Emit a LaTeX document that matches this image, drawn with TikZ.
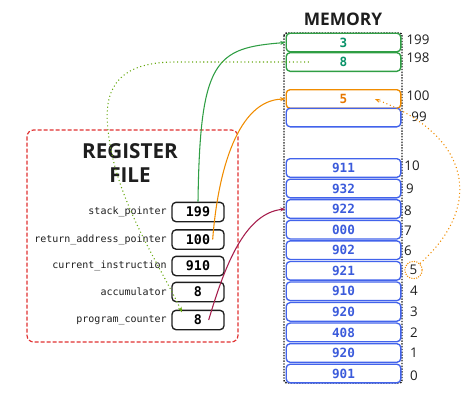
\documentclass[tikz,border=0pt]{standalone}
\usepackage{fontspec}
\newfontfamily\codefont{DejaVu Sans Mono}
\newfontfamily\handfont{Open Sans}
\usetikzlibrary{arrows.meta}
\definecolor{memgreen}{HTML}{2F9E44}
\definecolor{memgreentext}{HTML}{099268}
\definecolor{memorange}{HTML}{F08C00}
\definecolor{memorangetext}{HTML}{E67700}
\definecolor{memblue}{HTML}{4263EB}
\definecolor{membluetext}{HTML}{3B5BDB}
\definecolor{regred}{HTML}{E03131}
\definecolor{ptrred}{HTML}{A61E4D}
\definecolor{ptrolive}{HTML}{66A80F}
\definecolor{ink}{HTML}{1E1E1E}
\begin{document}
\begin{tikzpicture}[x=0.75pt,y=-0.75pt,
  cell/.style={draw,rounded corners=3pt,line width=1pt,minimum width=86pt,minimum height=14pt,inner sep=0pt,font=\codefont\bfseries\fontsize{9.5}{10}\selectfont},
  greencell/.style={cell,draw=memgreen,text=memgreentext},
  orangecell/.style={cell,draw=memorange,text=memorangetext},
  bluecell/.style={cell,draw=memblue,text=membluetext},
  regbox/.style={draw=ink,rounded corners=3pt,line width=1pt,minimum width=39pt,minimum height=14.5pt,inner sep=0pt,font=\codefont\bfseries\fontsize{10}{11}\selectfont},
  reglabel/.style={anchor=east,inner sep=0pt,text=ink,font=\codefont\fontsize{7.5}{8}\selectfont},
  addr/.style={inner sep=0pt,text=ink,font=\handfont\fontsize{10}{11}\selectfont},
  title/.style={text=ink,align=center,font=\handfont\bfseries\fontsize{15.5}{17.5}\selectfont},
  ptr/.style={line width=0.8pt,-{Stealth[length=4pt,width=3pt]}}]
\useasboundingbox (0,0) rectangle (474,415);

%REGISTER FILE
\draw[regred,line width=0.9pt,dash pattern=on 3pt off 1.5pt,rounded corners=5pt] (27,130) rectangle (238,342);
\node[title] (regtitle) at (130,163) {REGISTER\\FILE};
\node[regbox] (sp) at (198,212) {199};
\node[regbox] (rap) at (198,239.5) {100};
\node[regbox] (ci) at (198,266) {910};
\node[regbox] (acc) at (198,292) {8};
\node[regbox] (pc) at (198,320) {8};
\node[reglabel] (sp-l) at (167,212) {stack\_pointer};
\node[reglabel] (rap-l) at (167,239.5) {return\_address\_pointer};
\node[reglabel] (ci-l) at (167,266) {current\_instruction};
\node[reglabel] (acc-l) at (167,292) {accumulator};
\node[reglabel] (pc-l) at (167,320) {program\_counter};

%MEMORY
\draw[ink,line width=1.1pt,densely dotted,rounded corners=2pt] (284,33) rectangle (402,383);
\node[title,font=\handfont\bfseries\fontsize{13}{14}\selectfont] (memtitle) at (343,19) {MEMORY};
\node[greencell] (mem-199) at (343.5,42.5) {3};
\node[greencell] (mem-198) at (343.5,62) {8};
\node[orangecell] (mem-100) at (343.5,99) {5};
\node[bluecell] (mem-99) at (343.5,117.5) {};
\node[bluecell] (mem-10) at (343.5,168) {911};
\node[bluecell] (mem-9) at (343.5,188.5) {932};
\node[bluecell] (mem-8) at (343.5,209) {922};
\node[bluecell] (mem-7) at (343.5,229.7) {000};
\node[bluecell] (mem-6) at (343.5,250.2) {902};
\node[bluecell] (mem-5) at (343.5,270.8) {921};
\node[bluecell] (mem-4) at (343.5,291.3) {910};
\node[bluecell] (mem-3) at (343.5,311.9) {920};
\node[bluecell] (mem-2) at (343.5,332.4) {408};
\node[bluecell] (mem-1) at (343.5,353) {920};
\node[bluecell] (mem-0) at (343.5,373.5) {901};

%ADDRESSES
\node[addr] (addr-199) at (418,40) {199};
\node[addr] (addr-198) at (418,58) {198};
\node[addr] (addr-100) at (418,96) {100};
\node[addr] (addr-99) at (419,117) {99};
\node[addr] (addr-10) at (412,166) {10};
\node[addr] (addr-9) at (410,189) {9};
\node[addr] (addr-8) at (408,211) {8};
\node[addr] (addr-7) at (408,231) {7};
\node[addr] (addr-6) at (408,251) {6};
\node[addr,circle,draw=memorange,line width=0.8pt,densely dotted,minimum size=13pt] (addr-5) at (413.5,270) {5};
\node[addr] (addr-4) at (414,291) {4};
\node[addr] (addr-3) at (414,312) {3};
\node[addr] (addr-2) at (414,333) {2};
\node[addr] (addr-1) at (414,353) {1};
\node[addr] (addr-0) at (414,376) {0};

%POINTERS
\draw[ptr,memgreen] (sp.north) .. controls (200,60) and (215,48) .. (mem-199.west);
\draw[ptr,memorange] ([xshift=-9pt]rap.east) .. controls (218,170) and (238,100) .. (mem-100.west);
\draw[ptr,ptrred] ([xshift=-12pt]pc.east) .. controls (225,265) and (245,213) .. (mem-8.west);
\draw[ptr,ptrolive,dotted] ([xshift=-26pt]mem-198.center) -- (175,62) .. controls (112,62) and (104,95) .. (108,130) .. controls (115,200) and (160,265) .. ([xshift=8pt,yshift=-2pt]pc.north west);
\draw[ptr,memorange,dotted] (addr-5.north east) .. controls (485,205) and (470,135) .. ([xshift=23.5pt]mem-100.center);
\end{tikzpicture}
\end{document}
